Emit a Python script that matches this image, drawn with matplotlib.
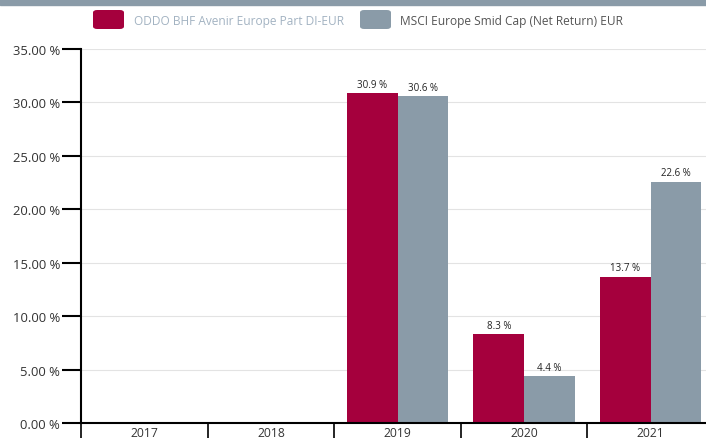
import matplotlib.pyplot as plt
import matplotlib.patches as mpatches
import numpy as np

plt.rcParams['font.family'] = ['Open Sans', 'DejaVu Sans']

years = ['2017', '2018', '2019', '2020', '2021']
fund = [np.nan, np.nan, 30.9, 8.3, 13.7]
index = [np.nan, np.nan, 30.6, 4.4, 22.6]
fund_name = 'ODDO BHF Avenir Europe Part DI-EUR'
index_name = 'MSCI Europe Smid Cap (Net Return) EUR'

red = '#a5003d'
grey = '#8a9ba8'

W, H = 706, 439
fig = plt.figure(figsize=(W/100, H/100), dpi=100)
ax = fig.add_axes([81/W, 15/H, 633/W, 374/H])

x = np.arange(len(years))
w = 0.4
b1 = ax.bar(x - w/2, fund, w, color=red, label=fund_name)
b2 = ax.bar(x + w/2, index, w, color=grey, label=index_name)

for bars, vals in [(b1, fund), (b2, index)]:
    for rect, v in zip(bars, vals):
        if not np.isnan(v):
            ax.text(rect.get_x() + rect.get_width()/2, v + 0.3, f'{v:.1f} %',
                    ha='center', va='bottom', fontsize=7, color='#222222')

ax.set_xlim(-0.5, len(years) - 0.5)
ax.set_ylim(0, 35)
yt = np.arange(0, 36, 5)
ax.set_yticks(yt)
ax.set_yticklabels([f'{t:.2f} %' for t in yt], fontsize=9.4, color='#333333')
ax.set_xticks(x)
ax.set_xticklabels(years, fontsize=8.7, color='#333333')
ax.set_xticks(np.arange(-0.5, len(years)), minor=True)
ax.tick_params(axis='x', which='major', length=0, pad=2)
ax.tick_params(axis='x', which='minor', length=12, width=1.2, color='black', direction='out')
ax.tick_params(axis='y', length=14, width=1.5, color='black', pad=1)

ax.yaxis.grid(True, color='#e3e3e3', linewidth=0.8)
ax.set_axisbelow(True)
for s in ['top', 'right']:
    ax.spines[s].set_visible(False)
ax.spines['left'].set_linewidth(1.5)
ax.spines['bottom'].set_linewidth(1.5)

# legend drawn in pixel coordinates
def px(xp, yp):
    return xp / W, 1 - yp / H

for (x0, tx, col, name, tcol) in [(93, 134, red, fund_name, '#a3b3c2'),
                                   (360, 400, grey, index_name, '#555555')]:
    lx, ly = px(x0, 30)
    fig.patches.append(mpatches.FancyBboxPatch(
        (lx, ly), 31/W, 19/H, boxstyle='round,pad=0,rounding_size=0.006',
        transform=fig.transFigure, facecolor=col, edgecolor='none'))
    tx_, ty_ = px(tx, 21)
    fig.text(tx_, ty_, name, fontsize=8.6, color=tcol, ha='left', va='center')

fig.patches.append(mpatches.Rectangle((0, 1 - 6/H), 1, 6/H, transform=fig.transFigure,
                                      color=grey, zorder=0))

fig.savefig('out.png', dpi=100)
